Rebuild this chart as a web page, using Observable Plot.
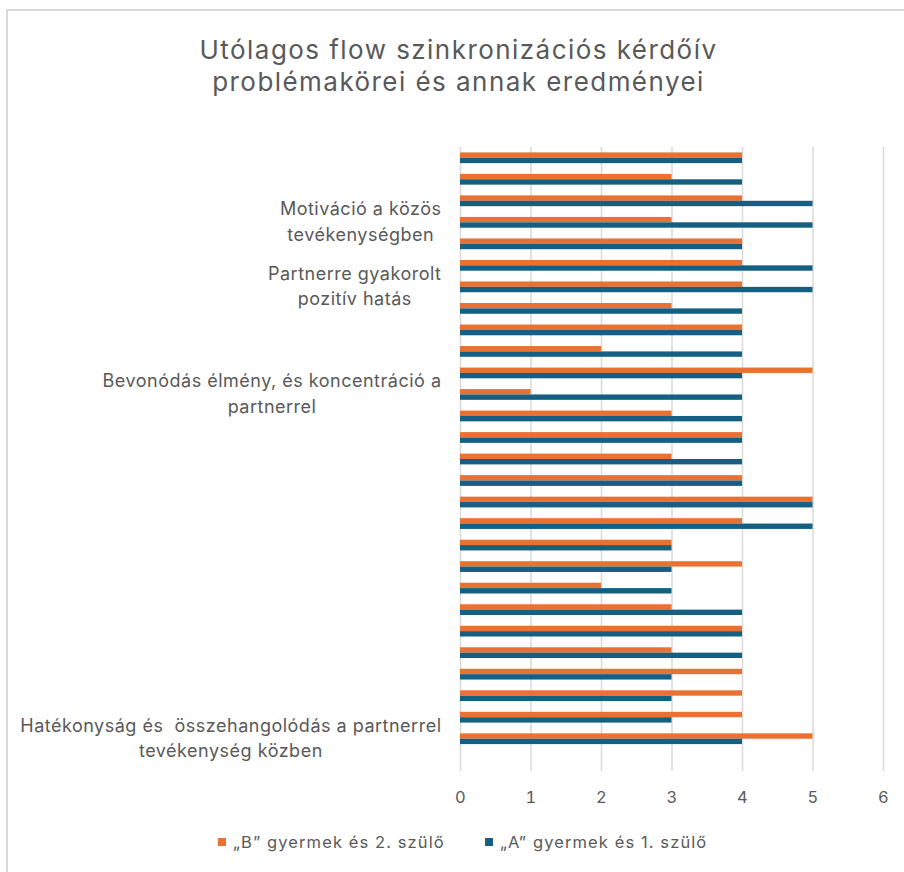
<!DOCTYPE html>
<html>
<head>
<meta charset="utf-8">
<script src="https://cdn.jsdelivr.net/npm/d3@7"></script>
<script src="https://cdn.jsdelivr.net/npm/@observablehq/plot@0.6"></script>
<style>
  html, body { margin: 0; padding: 0; background: #fff; }
  #wrap { position: relative; width: 904px; height: 872px; overflow: hidden; font-family: Inter, "Open Sans", sans-serif; color: #595959; }
  #frame { position: absolute; left: 6px; top: 9px; width: 920px; height: 900px; border-left: 2px solid #d9d9d9; border-top: 2px solid #d9d9d9; box-sizing: border-box; }
  #title { position: absolute; left: 0; top: 34px; width: 904px; padding-left: 13px; box-sizing: border-box; text-align: center; font-size: 26px; letter-spacing: 1.45px; line-height: 32px; color: #595959; }
  #chart { position: absolute; left: 0; top: 0; }
  #legend { position: absolute; top: 831px; left: 0; width: 904px; height: 22px; font-size: 16.5px; letter-spacing: 1.1px; color: #595959; }
  .item { position: absolute; top: 0; display: flex; align-items: center; height: 22px; white-space: nowrap; }
  .sw { width: 8px; height: 8px; margin-right: 7px; }
</style>
</head>
<body>
<div id="wrap">
  <div id="frame"></div>
  <div id="chart"></div>
  <div id="title"></div>
  <div id="legend"></div>
</div>
<script>
// ---- data (rows listed top to bottom as drawn) ----
const chartTitle = ["Utólagos flow szinkronizációs kérdőív", "problémakörei és annak eredményei"];
const seriesNames = ["„B” gyermek és 2. szülő", "„A” gyermek és 1. szülő"];
const seriesColors = ["#E97132", "#156082"];
const rowLabels = [
  "", "", "", "Motiváció a közös\ntevékenységben", "", "",
  "Partnerre gyakorolt\npozitív hatás", "", "", "", "",
  "Bevonódás élmény, és koncentráció a\npartnerrel", "", "", "", "", "", "", "", "", "", "", "", "", "", "", "",
  "Hatékonyság és  összehangolódás a partnerrel\ntevékenység közben",
  ""
];
const valuesB = [4,3,4,3,4,4,4,3,4,2,5,1,3,4,3,4,5,4,3,4,2,3,4,3,4,4,4,5];
const valuesA = [4,4,5,5,4,5,5,4,4,4,4,4,4,4,4,4,5,5,3,3,3,4,4,4,3,3,3,4];
const xTicks = [0,1,2,3,4,5,6];

// ---- build tables ----
const ids = rowLabels.map((_, i) => i);
const dataB = valuesB.map((v, i) => ({id: i, value: v, series: seriesNames[0]}));
const dataA = valuesA.map((v, i) => ({id: i, value: v, series: seriesNames[1]}));
const labelRows = rowLabels.map((t, i) => ({id: i, label: t})).filter(d => d.label);

const W = 904, H = 872;
const mTop = 147, mBottom = 101, mLeft = 460, mRight = 21;
const band = (H - mTop - mBottom) / ids.length;
const q = band / 4;
const fontFam = "Inter, 'Open Sans', sans-serif";
const labelSize = 18;
const labelSpacing = 0.5;

const ctx = document.createElement("canvas").getContext("2d");
ctx.font = `${labelSize}px ${fontFam}`;
try { ctx.letterSpacing = labelSpacing + "px"; } catch (e) {}
const lineW = s => Math.max(...s.split("\n").map(l => ctx.measureText(l).width));

const labelMarks = labelRows.map(d => Plot.text([d], {
  y: "id", text: "label", frameAnchor: "left", textAnchor: "middle",
  dx: -(19 + lineW(d.label) / 2), dy: -3, fontSize: labelSize, lineHeight: 25.5 / labelSize,
  fill: "#595959"
}));

const chart = Plot.plot({
  width: W, height: H,
  marginTop: mTop, marginBottom: mBottom, marginLeft: mLeft, marginRight: mRight,
  style: {fontFamily: fontFam, fontSize: "16px", color: "#595959", background: "transparent", letterSpacing: labelSpacing + "px"},
  x: {domain: [0, 6], ticks: xTicks},
  y: {type: "band", domain: ids, padding: 0, round: false, axis: null},
  marks: [
    Plot.gridX(xTicks, {stroke: "#d9d9d9", strokeOpacity: 1, strokeWidth: 1.5}),
    Plot.barX(dataB, {x: "value", y: "id", fill: seriesColors[0], insetTop: q, insetBottom: 2 * q}),
    Plot.barX(dataA, {x: "value", y: "id", fill: seriesColors[1], insetTop: 2 * q, insetBottom: q}),
    Plot.axisX({ticks: xTicks, tickFormat: d => String(d), tickSize: 0, tickPadding: 20, fontSize: 16.5, fill: "#595959", label: null}),
    ...labelMarks
  ]
});
document.getElementById("chart").appendChild(chart);

document.getElementById("title").innerHTML = chartTitle.join("<br>");

const legend = document.getElementById("legend");
const legendLeft = [218, 485];
seriesNames.forEach((name, i) => {
  const it = document.createElement("div");
  it.className = "item";
  it.style.left = legendLeft[i] + "px";
  const sw = document.createElement("div");
  sw.className = "sw";
  sw.style.background = seriesColors[i];
  const tx = document.createElement("span");
  tx.textContent = name;
  it.appendChild(sw); it.appendChild(tx);
  legend.appendChild(it);
});
</script>
</body>
</html>
